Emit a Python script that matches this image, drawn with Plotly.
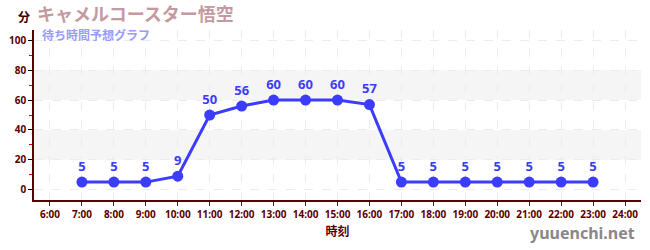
import plotly.graph_objects as go

hours = [7, 8, 9, 10, 11, 12, 13, 14, 15, 16, 17, 18, 19, 20, 21, 22, 23]
waits = [5, 5, 5, 9, 50, 56, 60, 60, 60, 57, 5, 5, 5, 5, 5, 5, 5]
tick_hours = list(range(6, 25))
tick_labels = [f"{h}:00" for h in tick_hours]
y_ticks = [0, 20, 40, 60, 80, 100]
bands = [(20, 40), (60, 80)]

title_text = "キャメルコースター悟空"
subtitle_text = "待ち時間予想グラフ"

line_color = "#3c3cff"
axis_color = "#5a0000"
font_main = "Noto Sans CJK JP"

fig = go.Figure()
fig.add_trace(go.Scatter(
    x=hours, y=waits, mode="lines+markers+text",
    line=dict(color=line_color, width=3),
    marker=dict(color=line_color, size=11),
    text=[str(v) for v in waits], textposition="top center",
    textfont=dict(color=line_color, size=13, family="Noto Sans", weight="bold"),
    hoverinfo="skip", showlegend=False, cliponaxis=False,
))

shapes = []
for lo, hi in bands:
    shapes.append(dict(type="rect", xref="paper", yref="y", x0=0, x1=1, y0=lo, y1=hi,
                       fillcolor="#f5f5f5", line=dict(width=0), layer="below"))

fig.update_layout(
    width=650, height=250,
    margin=dict(l=30, r=9, t=30, b=50),
    paper_bgcolor="white", plot_bgcolor="white",
    shapes=shapes,
    font=dict(family=font_main),
    xaxis=dict(
        range=[5.5, 24.5], tickvals=tick_hours, ticktext=tick_labels,
        tickfont=dict(size=10, color=axis_color, family="Noto Sans", weight="bold"),
        showline=True, linecolor=axis_color, linewidth=1.5,
        ticks="outside", ticklen=4, tickcolor="#333333",
        showgrid=True, gridcolor="#ececec", griddash="dash", gridwidth=1,
        zeroline=False, fixedrange=True,
        title=dict(text="時刻", font=dict(size=12, color=axis_color, weight="bold"), standoff=8),
    ),
    yaxis=dict(
        range=[-7, 107], tickvals=y_ticks,
        tickfont=dict(size=10, color=axis_color, family="Noto Sans", weight="bold"),
        showline=True, linecolor=axis_color, linewidth=1.5,
        ticks="outside", ticklen=4, tickcolor="#000000",
        minor=dict(tickvals=[10, 30, 50, 70, 90], ticks="outside", ticklen=3, tickcolor="#dd0000", showgrid=False),
        showgrid=True, gridcolor="#ececec", griddash="dash", gridwidth=1,
        zeroline=False, fixedrange=True,
    ),
)

pw = 650 - 30 - 9
ph = 250 - 30 - 50
def px(x): return (x - 30) / pw
def py(y): return (250 - 50 - y) / ph

fig.add_annotation(text="<b>分</b>", x=px(20), y=py(16), xref="paper", yref="paper",
                   showarrow=False, font=dict(size=12, color="#3a0000"), xanchor="center", yanchor="middle")
fig.add_annotation(text="<b>" + title_text + "</b>", x=px(31), y=py(13), xref="paper", yref="paper",
                   showarrow=False, font=dict(size=18, color="#c49aa0"), xanchor="left", yanchor="middle")
fig.add_annotation(text="<b>" + subtitle_text + "</b>", x=px(36), y=py(34), xref="paper", yref="paper",
                   showarrow=False, font=dict(size=12, color="#9a9aff"), xanchor="left", yanchor="middle")
fig.add_annotation(text="<b>yuuenchi.net</b>", x=px(637), y=py(233), xref="paper", yref="paper",
                   showarrow=False, font=dict(size=16, color="#888888", family="Noto Sans"),
                   xanchor="right", yanchor="middle")

fig.write_html("out.html")
